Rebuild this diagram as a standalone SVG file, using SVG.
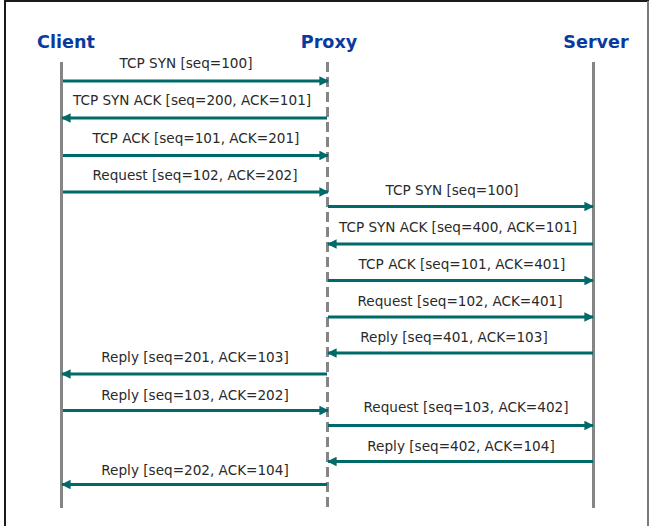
<svg xmlns="http://www.w3.org/2000/svg" width="661" height="526" viewBox="0 0 661 526">
  <style>
    .frame { stroke: #1a1a1a; stroke-width: 2; fill: none; }
    .frame-r { stroke: #7a7a7a; stroke-width: 2; fill: none; }
    .head { font-family: "DejaVu Sans", Verdana, sans-serif; font-weight: bold; font-size: 17.6px; fill: #0b3a9e; text-anchor: middle; }
    .life { stroke: #858585; stroke-width: 3; fill: none; }
    .life-dash { stroke: #858585; stroke-width: 3; fill: none; stroke-dasharray: 10 5; }
    .msg { stroke: #006a6a; stroke-width: 3; fill: none; }
    .lbl { font-family: "DejaVu Sans", Verdana, sans-serif; font-size: 13.6px; fill: #2a2a2a; text-anchor: middle; }
  </style>
  <defs>
    <marker id="arrow" viewBox="0 0 10 10" refX="9" refY="5" markerWidth="3.4" markerHeight="3.2" markerUnits="strokeWidth" orient="auto">
      <path d="M0,0 L10,5 L0,10 Z" fill="#006a6a"/>
    </marker>
  </defs>
  <rect width="661" height="526" fill="#ffffff"/>

  <!-- frame -->
  <line class="frame" x1="5" y1="1" x2="649" y2="1"/>
  <line class="frame" x1="5" y1="0" x2="5" y2="526"/>
  <line class="frame-r" x1="648" y1="1" x2="648" y2="526"/>

  <!-- participants -->
  <g id="client">
    <text class="head" x="66" y="48">Client</text>
    <line class="life" x1="61.5" y1="62" x2="61.5" y2="508"/>
  </g>
  <g id="proxy">
    <text class="head" x="329" y="48">Proxy</text>
    <line class="life-dash" x1="327.5" y1="62" x2="327.5" y2="508"/>
  </g>
  <g id="server">
    <text class="head" x="596" y="48">Server</text>
    <line class="life" x1="593.5" y1="62" x2="593.5" y2="508"/>
  </g>

  <!-- messages -->
  <g id="messages">
    <text class="lbl" x="186" y="68">TCP SYN [seq=100]</text>
    <line class="msg" x1="63" y1="81" x2="328" y2="81" marker-end="url(#arrow)"/>

    <text class="lbl" x="192" y="105">TCP SYN ACK [seq=200, ACK=101]</text>
    <line class="msg" x1="327" y1="118" x2="62" y2="118" marker-end="url(#arrow)"/>

    <text class="lbl" x="196" y="143">TCP ACK [seq=101, ACK=201]</text>
    <line class="msg" x1="63" y1="155.5" x2="328" y2="155.5" marker-end="url(#arrow)"/>

    <text class="lbl" x="195" y="180">Request [seq=102, ACK=202]</text>
    <line class="msg" x1="63" y1="192" x2="328" y2="192" marker-end="url(#arrow)"/>

    <text class="lbl" x="452" y="195">TCP SYN [seq=100]</text>
    <line class="msg" x1="328" y1="206.5" x2="593" y2="206.5" marker-end="url(#arrow)"/>

    <text class="lbl" x="458" y="232">TCP SYN ACK [seq=400, ACK=101]</text>
    <line class="msg" x1="593" y1="244" x2="328" y2="244" marker-end="url(#arrow)"/>

    <text class="lbl" x="462" y="269">TCP ACK [seq=101, ACK=401]</text>
    <line class="msg" x1="328" y1="280.5" x2="593" y2="280.5" marker-end="url(#arrow)"/>

    <text class="lbl" x="460" y="306">Request [seq=102, ACK=401]</text>
    <line class="msg" x1="328" y1="317" x2="593" y2="317" marker-end="url(#arrow)"/>

    <text class="lbl" x="454" y="342">Reply [seq=401, ACK=103]</text>
    <line class="msg" x1="593" y1="353" x2="328" y2="353" marker-end="url(#arrow)"/>

    <text class="lbl" x="195" y="362">Reply [seq=201, ACK=103]</text>
    <line class="msg" x1="327" y1="374" x2="62" y2="374" marker-end="url(#arrow)"/>

    <text class="lbl" x="195" y="400">Reply [seq=103, ACK=202]</text>
    <line class="msg" x1="63" y1="410.5" x2="328" y2="410.5" marker-end="url(#arrow)"/>

    <text class="lbl" x="466" y="412">Request [seq=103, ACK=402]</text>
    <line class="msg" x1="328" y1="425.5" x2="593" y2="425.5" marker-end="url(#arrow)"/>

    <text class="lbl" x="461" y="451">Reply [seq=402, ACK=104]</text>
    <line class="msg" x1="593" y1="461.5" x2="328" y2="461.5" marker-end="url(#arrow)"/>

    <text class="lbl" x="195" y="475">Reply [seq=202, ACK=104]</text>
    <line class="msg" x1="327" y1="484.5" x2="62" y2="484.5" marker-end="url(#arrow)"/>
  </g>
</svg>
